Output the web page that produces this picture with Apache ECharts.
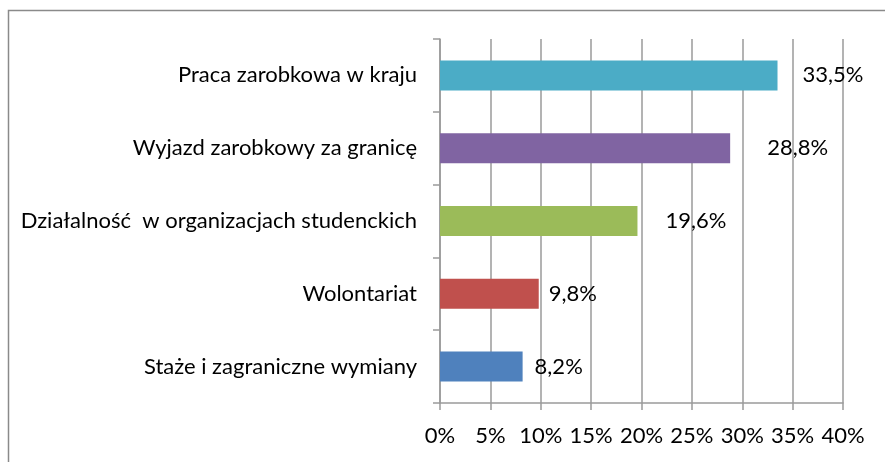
<!DOCTYPE html>
<html>
<head>
<meta charset="utf-8">
<script src="https://cdn.jsdelivr.net/npm/echarts@6/dist/echarts.min.js"></script>
<style>
  html, body { margin: 0; padding: 0; background: #fff; }
  #chart { width: 885px; height: 462px; }
</style>
</head>
<body>
<div id="chart"></div>
<script>
// bottom to top, as on the category axis
var categories = [
  "Staże i zagraniczne wymiany",
  "Wolontariat",
  "Działalność  w organizacjach studenckich",
  "Wyjazd zarobkowy za granicę",
  "Praca zarobkowa w kraju"
];
var values = [8.2, 9.8, 19.6, 28.8, 33.5];
var barColors = ["#4F81BD", "#C0504D", "#9BBB59", "#8064A2", "#4BACC6"];
// label gaps as placed in the original
var labelGap = [12, 10, 28, 37, 25];

var font = "Lato, 'Open Sans', sans-serif";
var gridColor = "#9a9a9a";

var chart = echarts.init(document.getElementById("chart"));
var option = {
  backgroundColor: "#fff",
  animation: false,
  graphic: [{
    type: "rect",
    shape: { x: 8.5, y: 10.5, width: 900, height: 500 },
    style: { fill: "none", stroke: "#8a8a8a", lineWidth: 1.5 },
    silent: true
  }],
  grid: { left: 440, right: 42, top: 39, bottom: 59 },
  xAxis: {
    type: "value",
    min: 0,
    max: 40,
    interval: 5,
    axisLine: { show: true, lineStyle: { color: gridColor, width: 1.5 } },
    axisTick: { show: true, length: 7, lineStyle: { color: gridColor, width: 1.5 } },
    axisLabel: {
      margin: 22,
      formatter: "{value}%",
      color: "#000",
      fontSize: 22,
      fontFamily: font
    },
    splitLine: { show: true, lineStyle: { color: gridColor, width: 1.5 } }
  },
  yAxis: {
    type: "category",
    data: categories,
    axisLine: { show: true, lineStyle: { color: gridColor, width: 1.5 } },
    axisTick: { show: true, length: 7, inside: false, lineStyle: { color: gridColor, width: 1.5 } },
    axisLabel: {
      margin: 23,
      color: "#000",
      fontSize: 22,
      fontFamily: font
    }
  },
  series: [{
    type: "bar",
    barWidth: 30,
    data: values.map(function (v, i) {
      return {
        value: v,
        itemStyle: { color: barColors[i] },
        label: { distance: labelGap[i] }
      };
    }),
    label: {
      show: true,
      position: "right",
      color: "#000",
      fontSize: 22,
      fontFamily: font,
      formatter: function (p) {
        return p.value.toFixed(1).replace(".", ",") + "%";
      }
    }
  }]
};
chart.setOption(option);
</script>
</body>
</html>
